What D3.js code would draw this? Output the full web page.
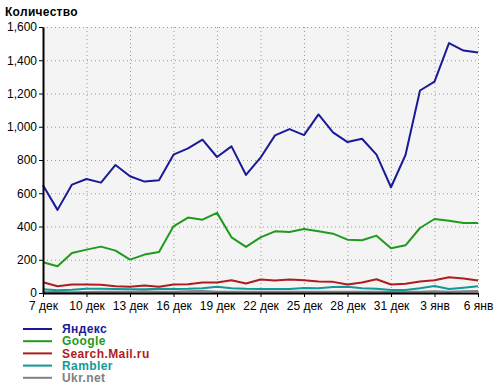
<!DOCTYPE html>
<html>
<head>
	<meta charset="utf-8">
	<title>Количество</title>
	<script src="https://d3js.org/d3.v7.min.js"></script>
	<style>
		body { margin: 0; background: #fff; }
		svg { font-family: Arial, "Liberation Sans", sans-serif; }
		.axis path, .axis line { stroke: #000; }
		.axis text { font-size: 12px; fill: #000; }
		.grid line { stroke: #999; stroke-dasharray: 1, 3; }
		.grid path { display: none; }
	</style>
</head>
<body>
	<div id="chartDiv"></div>
	<script>
		// days 7 дек .. 6 янв
		const days = ['7 дек','8 дек','9 дек','10 дек','11 дек','12 дек','13 дек','14 дек','15 дек',
			'16 дек','17 дек','18 дек','19 дек','20 дек','21 дек','22 дек','23 дек','24 дек','25 дек',
			'26 дек','27 дек','28 дек','29 дек','30 дек','31 дек','1 янв','2 янв','3 янв','4 янв','5 янв','6 янв'];
		const tickLabels = ['7 дек','10 дек','13 дек','16 дек','19 дек','22 дек','25 дек','28 дек','31 дек','3 янв','6 янв'];
		const yTicks = [0, 200, 400, 600, 800, 1000, 1200, 1400, 1600];

		const yandex = [648, 500, 652, 686, 664, 770, 702, 670, 678, 832, 870, 922, 818, 882, 710,
			814, 948, 986, 950, 1074, 966, 908, 928, 832, 636, 830, 1218, 1272, 1503, 1458, 1446];
		const google = [185, 161, 241, 261, 279, 255, 201, 231, 247, 401, 454, 441, 482, 335, 277,
			335, 371, 367, 385, 371, 357, 321, 317, 345, 269, 287, 391, 445, 435, 421, 421];
		const mail = [65, 41, 51, 51, 49, 41, 37, 45, 38, 51, 52, 63, 63, 77, 57,
			81, 75, 81, 77, 69, 67, 51, 63, 83, 51, 55, 69, 77, 95, 87, 75];
		const rambler = [22, 17, 20, 25, 25, 24, 22, 22, 25, 24, 25, 28, 38, 28, 25,
			24, 24, 24, 30, 28, 36, 38, 28, 26, 18, 18, 28, 42, 24, 32, 40];
		const ukr = [8, 6, 5, 6, 7, 8, 8, 10, 8, 8, 10, 12, 8, 8, 8,
			7, 7, 8, 8, 8, 8, 8, 8, 8, 6, 8, 8, 10, 8, 10, 12];

		const seriesNames = ['Яндекс', 'Google', 'Search.Mail.ru', 'Rambler', 'Ukr.net'];
		const seriesColors = ['#1a1a99', '#1f9a1f', '#b01c1c', '#119999', '#808080'];
		const seriesData = [yandex, google, mail, rambler, ukr];

		const width = 500, height = 389;
		const margin = { left: 43, right: 22, top: 27, bottom: 96 };
		const innerW = width - margin.left - margin.right;
		const innerH = height - margin.top - margin.bottom;

		const svg = d3.select('#chartDiv').append('svg')
			.attr('width', width)
			.attr('height', height);

		svg.append('text')
			.attr('x', 5)
			.attr('y', 16)
			.style('font-size', '12px')
			.style('font-weight', 'bold')
			.style('letter-spacing', '0.3px')
			.text('Количество');

		const g = svg.append('g').attr('transform', `translate(${margin.left},${margin.top})`);

		const xScale = d3.scaleLinear().domain([0, days.length - 1]).range([0, innerW]);
		const yScale = d3.scaleLinear().domain([0, 1600]).range([innerH, 0]);

		g.append('rect')
			.attr('width', innerW)
			.attr('height', innerH)
			.attr('fill', '#f4f4f4');

		const tickIdx = tickLabels.map(t => days.indexOf(t));

		// grid
		g.append('g').attr('class', 'grid')
			.call(d3.axisLeft(yScale).tickValues(yTicks.slice(1)).tickSize(-innerW).tickFormat(''));
		g.append('g').attr('class', 'grid')
			.call(d3.axisBottom(xScale).tickValues(tickIdx.slice(1)).tickSize(innerH).tickFormat(''));

		// lines
		const line = d3.line()
			.x((d, i) => xScale(i))
			.y(d => yScale(d));

		seriesData.slice().reverse().forEach((s, k) => {
			const i = seriesData.length - 1 - k;
			g.append('path')
				.datum(s)
				.attr('fill', 'none')
				.attr('stroke', seriesColors[i])
				.attr('stroke-width', 2)
				.attr('stroke-linejoin', 'round')
				.attr('d', line);
		});

		// axes
		const yAxisG = g.append('g').attr('class', 'axis')
			.call(d3.axisLeft(yScale).tickValues(yTicks).tickSize(4).tickSizeOuter(0).tickPadding(2)
				.tickFormat(d3.format(',')));
		yAxisG.select('.domain').attr('stroke-width', 2);

		const xAxisG = g.append('g').attr('class', 'axis')
			.attr('transform', `translate(0,${innerH})`)
			.call(d3.axisBottom(xScale).tickValues(tickIdx).tickSize(4).tickSizeOuter(0).tickPadding(4)
				.tickFormat(i => days[i]));
		xAxisG.select('.domain').attr('stroke-width', 2);

		// legend
		const legend = svg.append('g').attr('transform', 'translate(23,329)');
		seriesNames.forEach((name, i) => {
			const row = legend.append('g').attr('transform', `translate(0,${i * 12.2})`);
			row.append('line')
				.attr('x1', 0).attr('x2', 29)
				.attr('stroke', seriesColors[i])
				.attr('stroke-width', 2);
			row.append('text')
				.attr('x', 39)
				.attr('dy', '0.35em')
				.attr('fill', seriesColors[i])
				.style('font-size', '12px')
				.style('font-weight', 'bold')
				.style('letter-spacing', '0.4px')
				.text(name);
		});
	</script>
</body>
</html>
